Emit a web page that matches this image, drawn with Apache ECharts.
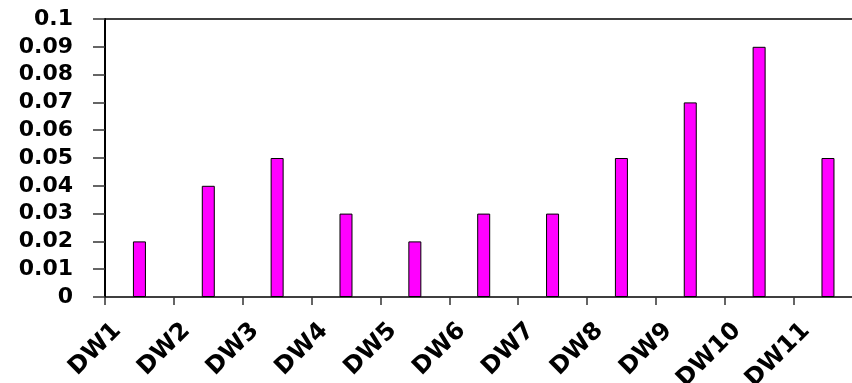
<!DOCTYPE html>
<html>
<head>
<meta charset="utf-8">
<script src="https://cdn.jsdelivr.net/npm/echarts@6/dist/echarts.min.js"></script>
<style>
html,body{margin:0;padding:0;background:#fff;}
#c{width:852px;height:383px;}
</style>
</head>
<body>
<div id="c"></div>
<script>
const categories = ['DW1','DW2','DW3','DW4','DW5','DW6','DW7','DW8','DW9','DW10','DW11'];
const values = [0.02,0.04,0.05,0.03,0.02,0.03,0.03,0.05,0.07,0.09,0.05];
const yMin = 0, yMax = 0.1, yStep = 0.01;

const chart = echarts.init(document.getElementById('c'), null, {renderer:'canvas'});
chart.setOption({
  animation:false,
  backgroundColor:'#fff',
  grid:{left:105, top:19, height:278, width:757.4, containLabel:false, outerBoundsMode:'none'},
  xAxis:[{
    type:'category',
    data:categories,
    boundaryGap:true,
    axisLine:{show:true, lineStyle:{color:'#000', width:1.5}},
    axisTick:{show:true, length:8, lineStyle:{color:'#333', width:1.5}},
    axisLabel:{
      rotate:45, interval:0, margin:8, padding:[0,31,0,0],
      fontFamily:'DejaVu Sans', fontWeight:'bold', fontSize:24, color:'#000'
    },
    splitLine:{show:false}
  },{
    type:'category',
    data:categories,
    position:'top',
    axisLine:{show:true, lineStyle:{color:'#000', width:1.5}},
    axisTick:{show:false},
    axisLabel:{show:false},
    splitLine:{show:false}
  }],
  yAxis:{
    type:'value',
    min:yMin, max:yMax, interval:yStep,
    axisLine:{show:true, lineStyle:{color:'#000', width:2}},
    axisTick:{show:true, length:12, lineStyle:{color:'#333', width:1.5}},
    axisLabel:{
      margin:32,
      fontFamily:'DejaVu Sans', fontWeight:'bold', fontSize:22, color:'#000',
      formatter:v => String(Number(v.toFixed(2)))
    },
    splitLine:{show:false}
  },
  series:[{
    type:'bar',
    data:values,
    barWidth:13,
    itemStyle:{color:'#ff00ff', borderColor:'#000', borderWidth:1}
  }]
});
</script>
</body>
</html>
